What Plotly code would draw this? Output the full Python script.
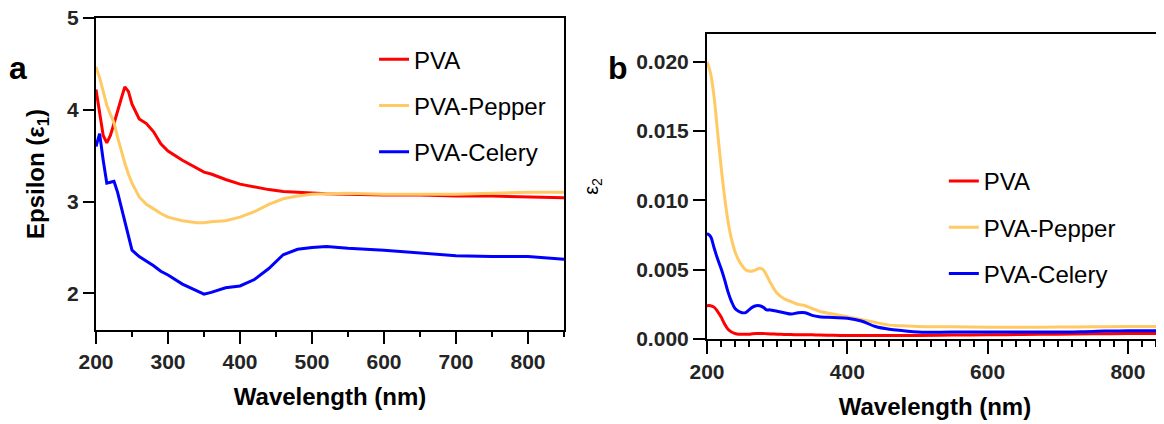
import plotly.graph_objects as go

# panel a: epsilon 1
wl_a = [200, 205, 210, 215, 220, 225, 230, 235, 240, 245, 250, 260, 270, 280, 290, 300,
        320, 340, 350, 360, 380, 400, 420, 440, 460, 480, 500, 520, 550, 600, 650, 700,
        750, 800, 850]
eps1_pva = [4.22, 3.95, 3.72, 3.64, 3.72, 3.85, 4.0, 4.12, 4.25, 4.2, 4.06, 3.9, 3.85, 3.76,
            3.63, 3.55, 3.45, 3.36, 3.32, 3.3, 3.24, 3.19, 3.16, 3.13, 3.11, 3.1, 3.09, 3.085,
            3.08, 3.07, 3.07, 3.06, 3.06, 3.05, 3.04]
eps1_pepper = [4.47, 4.35, 4.2, 4.05, 3.95, 3.86, 3.7, 3.55, 3.42, 3.3, 3.2, 3.05, 2.97, 2.92,
               2.87, 2.83, 2.79, 2.77, 2.77, 2.78, 2.79, 2.83, 2.89, 2.97, 3.03, 3.06, 3.08,
               3.085, 3.09, 3.08, 3.08, 3.08, 3.09, 3.1, 3.1]
eps1_celery = [3.6, 3.74, 3.45, 3.2, 3.21, 3.22, 3.1, 2.95, 2.8, 2.62, 2.47, 2.4, 2.35, 2.3,
               2.24, 2.2, 2.1, 2.03, 1.99, 2.01, 2.06, 2.08, 2.15, 2.27, 2.42, 2.48, 2.5, 2.51,
               2.49, 2.47, 2.44, 2.41, 2.4, 2.4, 2.37]

# panel b: epsilon 2
wl_b = [200, 205, 210, 215, 220, 225, 230, 235, 240, 245, 250, 255, 260, 265, 270, 275, 280,
        285, 290, 300, 310, 320, 330, 340, 350, 360, 380, 400, 420, 440, 460, 480, 500, 550,
        600, 650, 700, 750, 800, 850]
eps2_pva = [0.0024, 0.0024, 0.0023, 0.0020, 0.0016, 0.0011, 0.0007, 0.0005, 0.0004, 0.00035,
            0.00035, 0.00035, 0.00035, 0.00038, 0.0004, 0.0004, 0.0004, 0.00038, 0.00036,
            0.00035, 0.00033, 0.00032, 0.0003, 0.0003, 0.0003, 0.00028, 0.00027, 0.00025,
            0.00025, 0.00025, 0.00025, 0.00025, 0.00025, 0.00028, 0.0003, 0.00032, 0.00035,
            0.00037, 0.0004, 0.0004]
eps2_pepper = [0.0200, 0.0192, 0.0175, 0.0150, 0.0125, 0.0103, 0.0085, 0.0072, 0.0063, 0.0057,
               0.0053, 0.0050, 0.0049, 0.0049, 0.0050, 0.0051, 0.0050, 0.0046, 0.0041, 0.0033,
               0.0029, 0.0027, 0.0025, 0.0024, 0.0022, 0.0020, 0.0018, 0.0016, 0.0014, 0.0012,
               0.0010, 0.00095, 0.0009, 0.00088, 0.00085, 0.00085, 0.00086, 0.00088, 0.0009,
               0.0009]
eps2_celery = [0.0076, 0.0074, 0.0066, 0.0058, 0.0051, 0.0043, 0.0034, 0.0027, 0.0022, 0.0020,
               0.0019, 0.0019, 0.0021, 0.0023, 0.0024, 0.0024, 0.0023, 0.0021, 0.0021, 0.0020,
               0.0019, 0.0018, 0.0019, 0.0019, 0.0017, 0.0016, 0.00155, 0.0015, 0.0013, 0.0009,
               0.0007, 0.0006, 0.0005, 0.0005, 0.0005, 0.0005, 0.0005, 0.00055, 0.0006, 0.0006]

names = ["PVA", "PVA-Pepper", "PVA-Celery"]
colors = ["#FF0000", "#FFCA64", "#0000FF"]

FONT = "Liberation Sans"
# page shows the figure shifted by a few px, so the margins compensate
OX, OY = 7, 6
ML, MR, MT, MB = 95 - OX, 2 + OX, 16 - OY, 87 + OY
PW, PH = 1164 - ML - MR, 424 - MT - MB


def px_x(v):
    return (v - OX - ML) / PW


def px_y(v):
    return (424 - MB - (v - OY)) / PH


fig = go.Figure()
for name, ys, col in zip(names, [eps1_pva, eps1_pepper, eps1_celery], colors):
    fig.add_trace(go.Scatter(x=wl_a, y=ys, name=name, mode="lines", line=dict(color=col, width=3),
                             xaxis="x", yaxis="y", legend="legend", legendgroup="a" + name))
for name, ys, col in zip(names, [eps2_pva, eps2_pepper, eps2_celery], colors):
    fig.add_trace(go.Scatter(x=wl_b, y=ys, name=name, mode="lines",
                             line=dict(color=col, width=3, shape="spline"),
                             xaxis="x2", yaxis="y2", legend="legend2", legendgroup="b" + name))
# empty traces so the small-tick overlay axes get drawn
fig.add_trace(go.Scatter(x=[], y=[], xaxis="x3", yaxis="y", showlegend=False, hoverinfo="skip"))
fig.add_trace(go.Scatter(x=[], y=[], xaxis="x4", yaxis="y2", showlegend=False, hoverinfo="skip"))

base = dict(showline=True, linecolor="black", linewidth=2, mirror=True, ticks="outside",
            tickcolor="black", tickwidth=2, showgrid=False, zeroline=False, automargin=False,
            tickfont=dict(family=FONT, size=21, weight="bold"))
small = dict(ticks="outside", tickcolor="black", tickwidth=2, showticklabels=False, showline=False,
             showgrid=False, zeroline=False, automargin=False)
title_font = dict(family=FONT, size=24, weight="bold", color="black")
legend_font = dict(family=FONT, size=24, color="black")

fig.update_layout(
    width=1164, height=424,
    margin=dict(l=ML, r=MR, t=MT, b=MB),
    template="simple_white",
    xaxis=dict(base, domain=[0, 0.4386], range=[200, 850], dtick=100, ticklen=12, anchor="y",
               title=dict(text="Wavelength (nm)", font=title_font, standoff=16)),
    xaxis3=dict(small, overlaying="x", anchor="y", range=[200, 850], dtick=50, ticklen=6),
    yaxis=dict(base, domain=[0.028, 1], range=[1.6, 5], dtick=1, ticklen=11, anchor="x",
               ticklabeloverflow="allow",
               title=dict(text="Epsilon (ε<sub>1</sub>)", font=title_font, standoff=16)),
    xaxis2=dict(base, domain=[0.5726, 1], range=[200, 850], dtick=200, ticklen=13, anchor="y2",
                title=dict(text="Wavelength (nm)", font=title_font, standoff=16)),
    xaxis4=dict(small, overlaying="x2", anchor="y2", range=[200, 850], dtick=20, ticklen=7),
    yaxis2=dict(base, domain=[0, 0.9502], range=[0, 0.022], tickvals=[0, 0.005, 0.01, 0.015, 0.02],
                tickformat=".3f", ticklen=12, anchor="x2", ticklabeloverflow="allow",
                title=dict(text="ε<sub>2</sub>", font=dict(family=FONT, size=20, color="black"), standoff=32)),
    legend=dict(x=0.2606, y=0.94, xanchor="left", yanchor="top", bgcolor="rgba(0,0,0,0)",
                font=legend_font, tracegroupgap=12),
    legend2=dict(x=0.7946, y=0.561, xanchor="left", yanchor="top", bgcolor="rgba(0,0,0,0)",
                 font=legend_font, tracegroupgap=12),
    annotations=[
        dict(text="a", x=px_x(17), y=px_y(66), xref="paper", yref="paper", xanchor="center",
             yanchor="middle", showarrow=False, font=dict(family=FONT, size=32, weight="bold", color="black")),
        dict(text="b", x=px_x(617), y=px_y(66), xref="paper", yref="paper", xanchor="center",
             yanchor="middle", showarrow=False, font=dict(family=FONT, size=32, weight="bold", color="black")),
    ],
)

fig.write_html("out.html")
